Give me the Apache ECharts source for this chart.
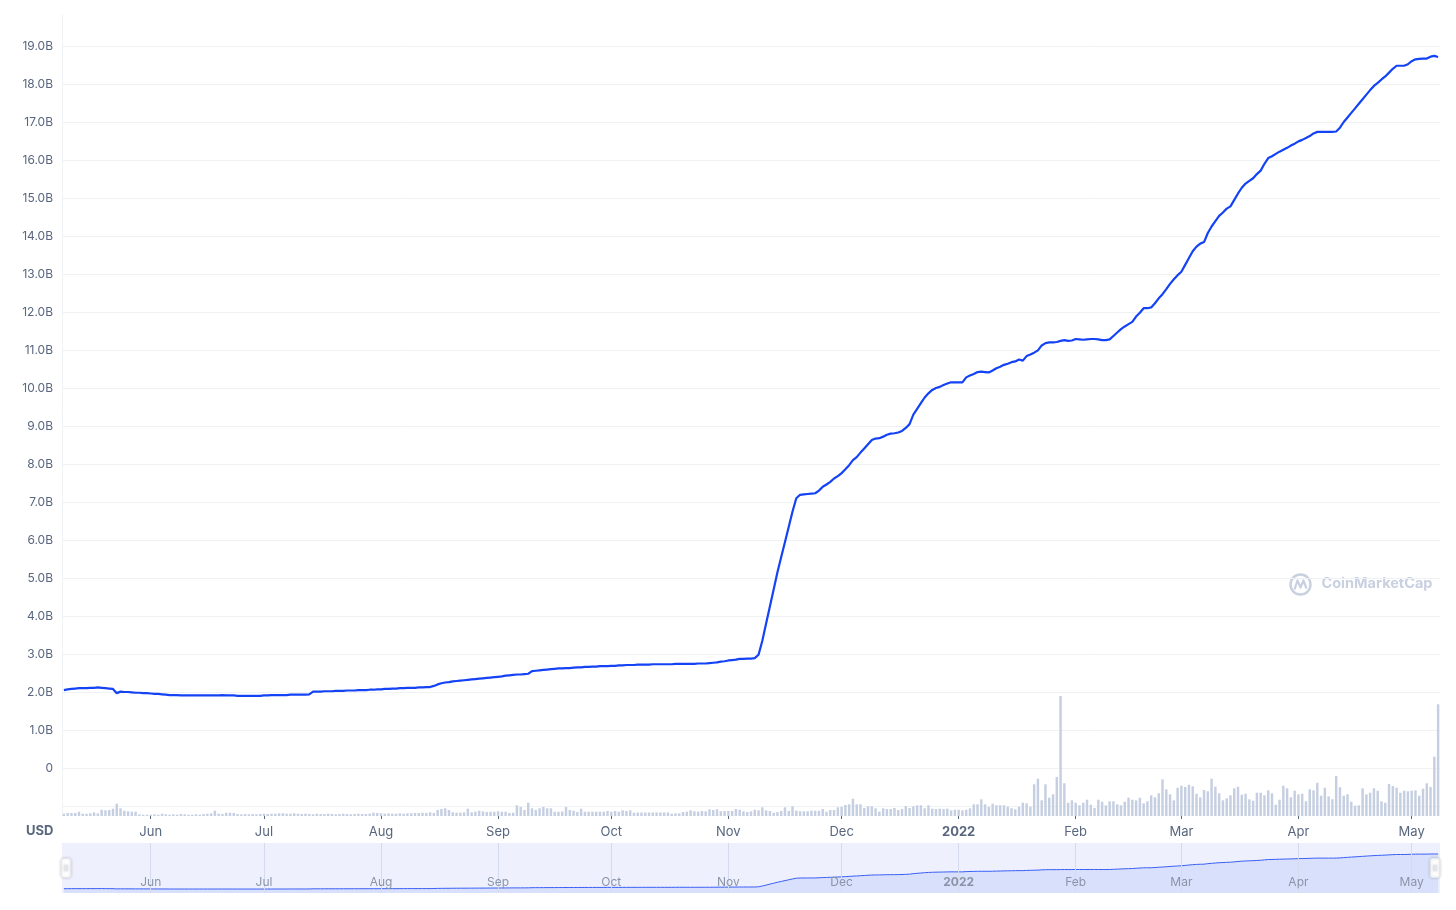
<!DOCTYPE html>
<html>
<head>
<meta charset="utf-8">
<script src="https://cdn.jsdelivr.net/npm/echarts@6.0.0/dist/echarts.min.js"></script>
<style>
html,body{margin:0;padding:0;background:#ffffff;}
#chart{width:1456px;height:910px;}
</style>
</head>
<body>
<div id="chart"></div>
<script>
// ---- data ----
const START_DATE = '2021-05-09';
const DAY_COUNT = 365;
const MONTH_LABELS = ['Jan','Feb','Mar','Apr','May','Jun','Jul','Aug','Sep','Oct','Nov','Dec'];
const Y_TICK_UNIT = 'B';
const CURRENCY = 'USD';

// market cap, billions USD, one value per day
const marketCapB = [
2.05,2.07,2.08,2.09,2.10,2.10,2.10,2.11,2.11,2.12,
2.11,2.10,2.09,2.08,1.97,2.01,2.00,2.00,1.99,1.98,
1.98,1.97,1.97,1.96,1.95,1.95,1.94,1.93,1.92,1.92,
1.92,1.91,1.91,1.91,1.91,1.91,1.91,1.91,1.91,1.91,
1.91,1.91,1.92,1.91,1.91,1.91,1.90,1.90,1.90,1.90,
1.90,1.90,1.90,1.91,1.91,1.92,1.92,1.92,1.92,1.92,
1.93,1.93,1.93,1.93,1.93,1.94,2.01,2.01,2.01,2.02,
2.02,2.02,2.03,2.03,2.03,2.04,2.04,2.04,2.05,2.05,
2.05,2.06,2.06,2.07,2.07,2.08,2.08,2.09,2.09,2.10,
2.10,2.11,2.11,2.11,2.12,2.12,2.13,2.13,2.16,2.20,
2.23,2.25,2.26,2.28,2.29,2.30,2.31,2.32,2.33,2.34,
2.35,2.36,2.37,2.38,2.39,2.40,2.41,2.43,2.44,2.45,
2.46,2.46,2.47,2.48,2.55,2.56,2.57,2.58,2.59,2.60,
2.61,2.62,2.62,2.63,2.63,2.64,2.65,2.65,2.66,2.66,
2.67,2.67,2.68,2.68,2.68,2.69,2.69,2.70,2.70,2.71,
2.71,2.71,2.72,2.72,2.72,2.72,2.73,2.73,2.73,2.73,
2.73,2.73,2.74,2.74,2.74,2.74,2.74,2.74,2.75,2.75,
2.75,2.76,2.77,2.78,2.80,2.81,2.83,2.84,2.85,2.87,
2.87,2.88,2.88,2.89,2.98,3.35,3.80,4.25,4.70,5.15,
5.55,5.95,6.35,6.75,7.10,7.19,7.20,7.21,7.22,7.23,
7.30,7.40,7.46,7.53,7.62,7.68,7.76,7.86,7.97,8.10,
8.18,8.30,8.41,8.52,8.63,8.67,8.68,8.72,8.77,8.80,
8.81,8.83,8.87,8.95,9.05,9.30,9.45,9.60,9.75,9.86,
9.95,10.00,10.03,10.08,10.12,10.15,10.15,10.15,10.15,10.28,
10.33,10.37,10.42,10.43,10.42,10.41,10.46,10.52,10.56,10.61,
10.64,10.68,10.70,10.75,10.72,10.84,10.88,10.93,10.99,11.12,
11.18,11.20,11.20,11.21,11.24,11.26,11.24,11.25,11.29,11.28,
11.27,11.28,11.29,11.29,11.28,11.26,11.26,11.28,11.37,11.46,
11.55,11.62,11.68,11.74,11.88,11.98,12.10,12.10,12.12,12.23,
12.36,12.47,12.60,12.74,12.86,12.97,13.06,13.24,13.42,13.60,
13.72,13.80,13.84,14.08,14.25,14.39,14.53,14.62,14.72,14.78,
14.95,15.12,15.27,15.38,15.45,15.52,15.63,15.72,15.90,16.05,
16.10,16.16,16.22,16.27,16.32,16.38,16.43,16.49,16.53,16.58,
16.63,16.70,16.74,16.74,16.74,16.74,16.74,16.75,16.85,17.00,
17.12,17.24,17.36,17.48,17.60,17.72,17.84,17.95,18.03,18.12,
18.20,18.30,18.40,18.48,18.48,18.48,18.52,18.60,18.65,18.66,
18.67,18.67,18.72,18.74,18.71
];

// 24h volume, millions USD, one value per day
const volumeM = [
23,30,30,30,43,23,23,27,37,27,
63,57,60,73,123,77,53,47,43,43,17,
13,13,13,17,13,
23,
17,13,17,13,20,17,13,13,17,13,20,23,27,
53,
23,20,
33,33,30,
20,17,20,17,20,17,20,23,20,23,
23,27,27,23,23,27,23,
20,23,20,17,23,20,20,23,20,17,20,23,20,17,20,23,20,20,23,
33,
30,27,23,27,23,23,27,23,27,27,30,
30,33,30,37,30,
60,70,77,60,37,33,33,37,73,37,43,53,47,40,43,43,47,43,43,30,33,107,
90,60,133,77,60,77,90,77,77,43,43,
45,90,60,53,40,73,
43,43,43,43,43,43,
50,43,50,43,57,50,57,33,
35,35,35,35,35,35,35,35,35,
23,27,27,
40,43,57,47,43,50,47,
67,60,67,47,50,50,50,
70,63,47,40,47,63,57,
87,57,50,33,40,50,
87,50,97,53,47,47,47,53,53,53,
70,43,60,60,87,93,110,117,173,117,117,
80,97,97,77,43,77,70,70,80,60,70,
100,80,97,107,107,77,107,73,70,73,
70,73,57,63,63,57,63,77,117,117,
167,117,93,123,107,107,107,93,77,67,
93,133,127,93,317,373,157,317,183,217,
390,1200,327,133,157,133,107,133,163,113,
80,163,143,107,147,147,117,107,143,183,
163,157,183,127,147,207,187,227,367,267,
217,157,283,303,290,313,297,223,187,260,
247,373,293,227,157,177,207,277,293,213,
223,167,153,233,233,207,257,227,113,163,
303,277,187,253,217,223,147,267,257,333,
203,283,197,167,400,287,203,217,143,103,
107,277,217,233,277,253,147,133,320,300,
283,233,253,247,253,257,203,273,327,290,
593,1117
];

// ---- category dates ----
const dates = [];
(function () {
  const p = START_DATE.split('-').map(Number);
  const t0 = Date.UTC(p[0], p[1] - 1, p[2]);
  for (let i = 0; i < DAY_COUNT; i++) {
    dates.push(new Date(t0 + i * 86400000).toISOString().slice(0, 10));
  }
})();

const isMonthStart = (idx, val) => val.slice(8, 10) === '01';
const monthLabel = (val) => {
  const m = +val.slice(5, 7);
  return m === 1 ? '{yr|' + val.slice(0, 4) + '}' : MONTH_LABELS[m - 1];
};

const FONT = 'Inter';
const LABEL_COLOR = '#58667e';
const GRID_COLOR = '#eff2f5';
const NAV_LABEL = '#8a94a8';

const chart = echarts.init(document.getElementById('chart'), null, {renderer: 'canvas'});

chart.setOption({
  animation: false,
  backgroundColor: '#ffffff',
  textStyle: {fontFamily: FONT},
  grid: [
    {left: 62, right: 16, top: 15, bottom: 104},
    {left: 62, right: 16, top: 15, bottom: 94},
    {left: 62, right: 16, top: 843, height: 50, show: true, backgroundColor: '#eef1fd', borderWidth: 0}
  ],
  xAxis: [
    {gridIndex: 0, type: 'category', data: dates, show: false},
    {
      gridIndex: 1, type: 'category', data: dates,
      axisLine: {show: false},
      axisTick: {show: true, alignWithLabel: true, interval: isMonthStart, length: 3, lineStyle: {color: LABEL_COLOR}},
      axisLabel: {
        interval: isMonthStart, formatter: monthLabel, color: LABEL_COLOR, fontSize: 13, fontFamily: FONT, margin: 10,
        rich: {yr: {fontWeight: 'bold', color: LABEL_COLOR, fontSize: 13, fontFamily: FONT}}
      },
      splitLine: {show: false}
    },
    {
      gridIndex: 2, type: 'category', data: dates, z: 10,
      axisLine: {show: false},
      axisTick: {show: false},
      axisLabel: {
        inside: true, interval: isMonthStart, formatter: monthLabel, color: NAV_LABEL, fontSize: 12, fontFamily: FONT, margin: 5,
        rich: {yr: {fontWeight: 'bold', color: NAV_LABEL, fontSize: 12, fontFamily: FONT}}
      },
      splitLine: {show: true, interval: isMonthStart, alignWithLabel: true, lineStyle: {color: '#d5dbee', width: 1}}
    }
  ],
  yAxis: [
    {
      gridIndex: 0, type: 'value', min: -1, max: 19.816, interval: 1,
      axisLine: {show: false}, axisTick: {show: false},
      splitLine: {show: true, showMaxLine: false, lineStyle: {color: GRID_COLOR, width: 1}},
      axisLabel: {
        showMaxLabel: false, showMinLabel: false, color: LABEL_COLOR, fontSize: 12, fontFamily: FONT, margin: 9,
        formatter: (v) => v < -0.5 ? '' : (Math.abs(v) < 1e-9 ? '0' : v.toFixed(1) + Y_TICK_UNIT)
      }
    },
    {
      gridIndex: 1, type: 'value', min: 0, max: 8010,
      axisLine: {show: true, lineStyle: {color: GRID_COLOR}},
      axisTick: {show: false}, axisLabel: {show: false}, splitLine: {show: false}
    },
    {gridIndex: 2, type: 'value', min: 0, max: 24, show: false, splitLine: {show: false}}
  ],
  dataZoom: [{
    type: 'slider', xAxisIndex: [0, 1], start: 0, end: 100, filterMode: 'none',
    left: 64, right: 21, top: 843, height: 50,
    showDataShadow: false, showDetail: false, brushSelect: false, moveHandleSize: 0,
    backgroundColor: 'rgba(0,0,0,0)', fillerColor: 'rgba(0,0,0,0)', borderColor: 'rgba(0,0,0,0)',
    handleIcon: 'path://M2,0H8A2,2,0,0,1,10,2V18A2,2,0,0,1,8,20H2A2,2,0,0,1,0,18V2A2,2,0,0,1,2,0Z M3.6,7V13H4.4V7Z M5.6,7V13H6.4V7Z',
    handleSize: '38%',
    handleStyle: {color: '#ffffff', borderColor: '#e3e7ee', borderWidth: 1, shadowBlur: 3, shadowColor: 'rgba(0,0,0,0.18)'},
    emphasis: {handleStyle: {color: '#ffffff', borderColor: '#e3e7ee'}}
  }],
  series: [
    {
      type: 'bar', xAxisIndex: 1, yAxisIndex: 1, data: volumeM, barCategoryGap: '35%',
      itemStyle: {color: '#c6cfe1'}, silent: true
    },
    {
      type: 'line', xAxisIndex: 0, yAxisIndex: 0, data: marketCapB, symbol: 'none', z: 3,
      lineStyle: {color: '#1442f5', width: 2.2}, silent: true
    },
    {
      type: 'line', xAxisIndex: 2, yAxisIndex: 2, data: marketCapB, symbol: 'none', z: 2,
      lineStyle: {color: '#3a5ff6', width: 1}, areaStyle: {color: '#d9e0fb', opacity: 1}, silent: true
    }
  ],
  graphic: [
    {
      type: 'text', left: 26, top: 825,
      style: {text: CURRENCY, font: 'bold 13px Inter', fill: LABEL_COLOR}
    },
    {
      type: 'group', left: 1288, top: 572, silent: true,
      children: [
        {type: 'circle', shape: {cx: 11, cy: 11, r: 10}, style: {fill: 'none', stroke: '#c9d0e0', lineWidth: 2.4}},
        {type: 'polyline', shape: {points: [[5, 16], [8, 7], [11, 14], [14, 7], [17, 15]]}, style: {fill: 'none', stroke: '#c9d0e0', lineWidth: 2.2, lineJoin: 'round'}},
        {type: 'text', x: 32, y: 3, style: {text: 'CoinMarketCap', font: 'bold 14.5px Inter', fill: '#c9d0e0'}}
      ]
    }
  ]
});
</script>
</body>
</html>
